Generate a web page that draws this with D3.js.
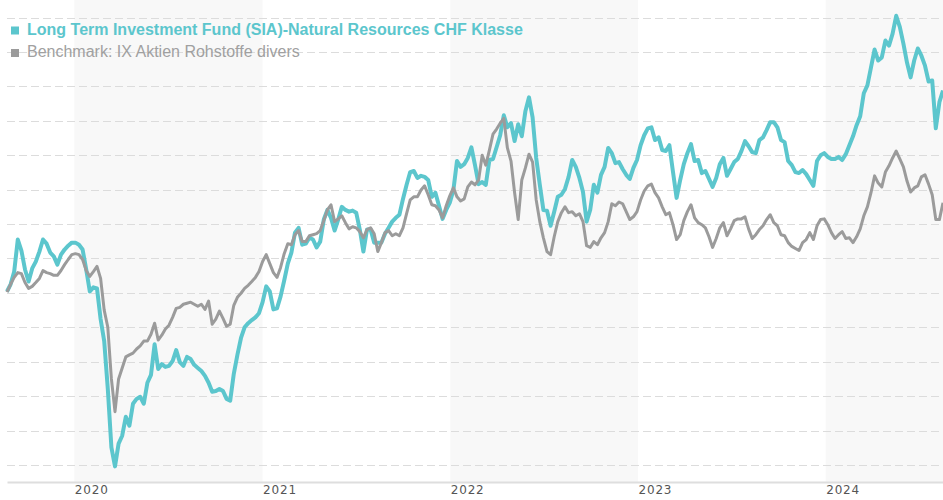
<!DOCTYPE html>
<html>
<head>
<meta charset="utf-8">
<script src="https://cdn.jsdelivr.net/npm/d3@7"></script>
<style>
  html, body { margin: 0; padding: 0; background: #fff; }
  svg { display: block; }
</style>
</head>
<body>
<script>
const width = 943;
const height = 500;

// Weekly closes, indexed (start = 100), first week ends 2019-08-23
const startDate = new Date(2019, 7, 23);

const fundName = "Long Term Investment Fund (SIA)-Natural Resources CHF Klasse";
const benchName = "Benchmark: IX Aktien Rohstoffe divers";

const fundValues = [
  100.4, 102.5, 106.2, 115.5, 112.3, 106.8, 103.3, 107.1, 109.1, 112.0,
  115.5, 114.3, 111.7, 110.6, 108.2, 111.1, 112.6, 113.7, 114.6, 114.6,
  114.0, 112.6, 106.8, 100.4, 101.6, 101.3, 92.4, 86.0, 72.1, 55.1,
  49.6, 56.2, 58.5, 64.0, 61.4, 67.8, 69.2, 69.8, 67.8, 73.9,
  76.2, 85.1, 77.9, 79.3, 78.5, 78.8, 80.2, 83.4, 79.9, 78.8,
  81.4, 80.8, 79.1, 78.2, 77.3, 75.9, 73.9, 71.3, 71.5, 72.1,
  71.5, 69.2, 68.7, 76.5, 82.0, 86.9, 90.0, 91.2, 92.1, 92.9,
  94.1, 97.3, 101.9, 100.4, 95.2, 95.5, 99.0, 103.6, 108.5, 111.7,
  117.5, 118.9, 114.0, 114.3, 116.0, 115.5, 113.2, 114.9, 121.3, 124.1,
  121.8, 118.1, 121.3, 125.0, 124.1, 123.6, 123.9, 123.3, 118.4, 112.0,
  118.4, 118.4, 114.6, 114.6, 114.6, 117.2, 118.9, 120.7, 121.8, 122.7,
  127.3, 131.4, 135.1, 135.4, 133.4, 134.0, 133.7, 132.8, 127.9, 129.1,
  125.3, 121.5, 124.1, 126.2, 129.9, 138.3, 136.6, 137.4, 139.2, 142.3,
  137.1, 131.6, 132.2, 131.4, 138.6, 138.9, 142.3, 145.8, 151.6, 148.1,
  149.3, 144.1, 149.0, 145.5, 152.8, 156.8, 151.0, 139.2, 131.4, 124.1,
  123.9, 119.5, 123.6, 127.9, 128.5, 130.2, 133.7, 138.6, 136.6, 133.4,
  129.3, 120.7, 124.1, 131.4, 129.1, 134.3, 136.6, 142.1, 140.6, 137.7,
  138.0, 136.0, 134.3, 133.1, 136.3, 138.6, 142.9, 145.8, 147.8, 148.1,
  144.4, 145.2, 141.5, 141.2, 142.9, 135.1, 127.6, 132.8, 137.4, 140.6,
  143.2, 138.3, 138.6, 134.8, 135.4, 133.1, 130.8, 133.4, 137.4, 139.2,
  134.0, 136.0, 138.0, 138.9, 141.2, 144.1, 142.6, 140.9, 140.6, 144.4,
  145.2, 147.3, 149.6, 149.6, 148.1, 144.4, 143.8, 138.3, 137.1, 135.1,
  134.8, 135.7, 134.5, 132.8, 131.1, 138.3, 140.0, 140.6, 139.5, 138.9,
  138.9, 139.5, 138.6, 140.3, 142.9, 145.5, 148.7, 151.3, 158.0, 160.3,
  165.5, 170.7, 167.5, 168.4, 173.3, 171.8, 175.3, 180.5, 177.3, 172.4,
  166.9, 162.6, 167.5, 171.0, 168.9, 166.0, 161.4, 161.7, 147.8, 155.4,
  158.8
];

const benchValues = [
  100.2, 102.5, 104.5, 105.9, 105.6, 103.0, 101.3, 101.9, 103.0, 104.2,
  106.5, 105.9, 105.6, 105.1, 105.1, 106.5, 108.2, 109.7, 111.1, 111.4,
  111.1, 109.7, 106.5, 104.8, 106.2, 107.7, 104.2, 95.0, 90.0, 75.0,
  65.5, 75.0, 78.2, 81.4, 82.0, 82.5, 83.7, 84.6, 86.0, 86.0,
  88.0, 91.2, 86.3, 87.7, 89.5, 90.6, 92.9, 95.5, 95.8, 96.7,
  97.0, 97.3, 96.7, 96.1, 96.7, 95.2, 97.6, 90.9, 92.4, 94.7,
  92.6, 90.3, 90.9, 96.4, 98.7, 99.9, 101.3, 102.2, 103.3, 104.5,
  106.2, 109.1, 111.1, 108.5, 105.9, 104.5, 107.4, 111.4, 114.3, 114.0,
  116.9, 118.1, 114.9, 114.9, 116.6, 116.9, 117.2, 118.1, 121.0, 124.1,
  125.6, 120.7, 121.5, 122.4, 120.4, 118.6, 119.2, 118.9, 117.8, 116.0,
  118.4, 118.9, 117.2, 112.0, 114.6, 117.5, 118.1, 116.6, 117.2, 116.6,
  118.9, 123.0, 127.0, 127.9, 127.9, 129.9, 131.1, 128.5, 125.6, 125.3,
  124.1, 121.8, 125.3, 128.2, 130.5, 127.9, 126.7, 127.3, 130.8, 132.2,
  131.4, 132.8, 140.0, 137.1, 141.5, 146.1, 147.6, 149.3, 150.7, 142.1,
  138.3, 129.1, 121.3, 132.8, 136.3, 140.3, 138.0, 127.0, 120.7, 116.0,
  112.0, 111.1, 116.3, 120.7, 123.3, 125.0, 123.3, 123.6, 122.4, 123.0,
  120.7, 113.7, 113.2, 114.9, 114.0, 116.0, 117.5, 120.7, 125.9, 125.3,
  126.4, 125.9, 123.6, 121.3, 122.1, 123.6, 127.0, 129.6, 131.1, 131.6,
  129.1, 127.6, 125.0, 122.7, 123.3, 119.8, 115.5, 116.9, 121.0, 123.6,
  125.6, 121.8, 120.4, 119.8, 118.9, 116.3, 113.2, 115.8, 118.9, 120.4,
  116.6, 118.6, 121.0, 121.5, 121.5, 122.1, 118.6, 115.8, 116.9, 118.4,
  119.5, 121.3, 122.7, 120.4, 119.5, 116.9, 116.6, 114.6, 113.5, 112.9,
  112.3, 114.6, 115.5, 117.5, 115.5, 119.5, 121.3, 121.5, 119.8, 117.5,
  115.8, 116.9, 117.8, 115.8, 116.0, 114.6, 116.3, 118.6, 122.4, 125.0,
  129.1, 134.0, 131.9, 130.8, 135.1, 136.9, 139.2, 141.2, 138.9, 136.6,
  132.5, 129.3, 130.5, 131.1, 133.7, 134.3, 131.6, 128.5, 121.3, 121.3,
  126.2
];

const yearTicks = [2020, 2021, 2022, 2023, 2024];
const shadedYears = [2020, 2022, 2024];
const gridValues = [50, 60, 70, 80, 90, 100, 110, 120, 130, 140, 150, 160, 170, 180];

const fundColor = "#5cc6cd";
const benchColor = "#9b9b9b";

// dates of the weekly points
const dates = fundValues.map((_, i) => d3.timeDay.offset(startDate, 7 * i));

const svg = d3.select("body")
    .append("svg")
    .attr("width", width)
    .attr("height", height);

const x = d3.scaleTime()
    .domain([dates[0], dates[dates.length - 1]])
    .range([7, 943]);

const y = d3.scaleLinear()
    .domain([50, 180])
    .range([465, 17.5]);

const plotBottom = 482;

// bandes grises une année sur deux
svg.append("g")
    .selectAll("rect")
    .data(shadedYears)
    .enter()
    .append("rect")
    .attr("x", d => x(new Date(d, 0, 1)))
    .attr("y", 0)
    .attr("width", d => Math.min(x.range()[1], x(new Date(d + 1, 0, 1))) - x(new Date(d, 0, 1)))
    .attr("height", plotBottom)
    .attr("fill", "#f8f8f8");

// lignes de grille horizontales
svg.append("g")
    .selectAll("line")
    .data(gridValues)
    .enter()
    .append("line")
    .attr("x1", 7)
    .attr("x2", 943)
    .attr("y1", d => Math.round(y(d)) + 0.5)
    .attr("y2", d => Math.round(y(d)) + 0.5)
    .attr("stroke", "#dcdcdc")
    .attr("stroke-width", 1)
    .attr("stroke-dasharray", "8,4");

// axe des x
const xAxis = d3.axisBottom(x)
    .tickValues(yearTicks.map(yr => new Date(yr, 0, 1)))
    .tickFormat(d3.timeFormat("%Y"))
    .tickSize(0)
    .tickSizeOuter(0);

const axisG = svg.append("g")
    .attr("transform", `translate(0, ${plotBottom})`)
    .call(xAxis);

axisG.select(".domain")
    .attr("stroke", "#dedede")
    .attr("stroke-width", 2);

axisG.selectAll("text")
    .attr("text-anchor", "start")
    .attr("x", 0)
    .attr("y", 12)
    .attr("dy", 0)
    .attr("fill", "#555")
    .style("font-family", "'DejaVu Sans', Verdana, sans-serif")
    .style("font-size", "12px")
    .style("letter-spacing", "0.8px");

// courbes
const line = d3.line()
    .x((d, i) => x(dates[i]))
    .y(d => y(d));

svg.append("path")
    .datum(fundValues)
    .attr("d", line)
    .attr("fill", "none")
    .attr("stroke", fundColor)
    .attr("stroke-width", 4)
    .attr("stroke-linejoin", "round");

svg.append("path")
    .datum(benchValues)
    .attr("d", line)
    .attr("fill", "none")
    .attr("stroke", benchColor)
    .attr("stroke-width", 3)
    .attr("stroke-linejoin", "round");

// légende
const legendItems = [
    { name: fundName, color: fundColor, weight: "bold", textColor: fundColor, y: 34.5 },
    { name: benchName, color: benchColor, weight: "normal", textColor: "#a0a0a0", y: 57 }
];

const legend = svg.append("g")
    .selectAll("g")
    .data(legendItems)
    .enter()
    .append("g");

legend.append("rect")
    .attr("x", 11)
    .attr("y", d => d.y - 8)
    .attr("width", 8)
    .attr("height", 8)
    .attr("fill", d => d.color);

legend.append("text")
    .attr("x", 27)
    .attr("y", d => d.y)
    .text(d => d.name)
    .attr("fill", d => d.textColor)
    .style("font-family", "'Liberation Sans', Arial, sans-serif")
    .style("font-size", "16px")
    .style("font-weight", d => d.weight);
</script>
</body>
</html>
